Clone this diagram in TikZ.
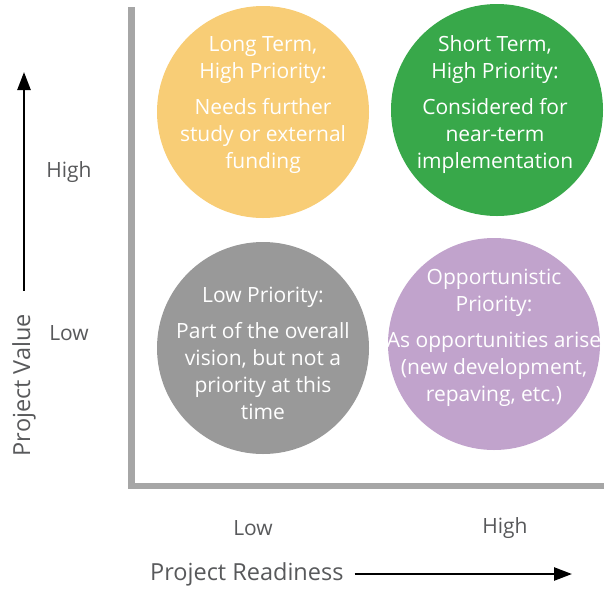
\documentclass[tikz,border=0pt]{standalone}
\usepackage{fontspec}
\setmainfont{Open Sans}
\usetikzlibrary{arrows.meta}
\definecolor{ltyellow}{HTML}{F8CD76}
\definecolor{stgreen}{HTML}{38A84A}
\definecolor{lpgray}{HTML}{999999}
\definecolor{oppurple}{HTML}{C1A3CC}
\definecolor{axisgray}{HTML}{A6A6A6}
\definecolor{labelgray}{HTML}{58595B}
\begin{document}
\begin{tikzpicture}[x=1pt,y=-1pt]
\tikzset{
  quad/.style={circle,minimum size=212pt,inner sep=0pt},
  quadtext/.style={align=center,text=white,inner sep=0pt,font=\fontsize{21}{27}\selectfont},
  axislabel/.style={text=labelgray,inner sep=0pt,font=\fontsize{21}{24}\selectfont},
  axistitle/.style={axislabel,font=\fontsize{23.5}{26}\selectfont},
  axisline/.style={draw=axisgray,line width=6.5pt},
  valuearrow/.style={-{Triangle[length=18pt,width=13pt]},line width=2.5pt}
}
\useasboundingbox (0,0) rectangle (604,590);
\coordinate (c_top) at (131.5,7);
\coordinate (c_right) at (604,486);
\coordinate (c_vtip) at (25,72);
\coordinate (c_rtip) at (572,576);
\draw[axisline] (c_top) |- (c_right);
\node[quad,fill=ltyellow] (n_lt) at (263,112) {};
\node[quad,fill=stgreen] (n_st) at (497,110) {};
\node[quad,fill=lpgray] (n_lp) at (263,348) {};
\node[quad,fill=oppurple] (n_op) at (494,344) {};
\node[quadtext] (n_lt_text) at (263,105) {Long Term,\\High Priority:\\[9pt]Needs further\\study or external\\funding};
\node[quadtext] (n_st_text) at (495,105) {Short Term,\\High Priority:\\[9pt]Considered for\\near-term\\implementation};
\node[quadtext] (n_lp_text) at (263,353) {Low Priority:\\[9pt]Part of the overall\\vision, but not a\\priority at this\\time};
\node[quadtext] (n_op_text) at (494,338) {Opportunistic\\Priority:\\[9pt]As opportunities arise\\(new development,\\repaving, etc.)};
\node[axislabel] (n_vhigh) at (69,172) {High};
\node[axislabel] (n_vlow) at (69,333) {Low};
\node[axislabel] (n_rlow) at (253,528) {Low};
\node[axislabel] (n_rhigh) at (505,528) {High};
\node[axistitle,anchor=west] (n_readiness) at (150,574) {Project Readiness};
\node[axistitle,rotate=90] (n_value) at (24,385) {Project Value};
\draw[valuearrow] ([xshift=11pt]n_readiness.east) -- (n_readiness.east -| c_rtip);
\draw[valuearrow] ([yshift=23pt]n_value.east) -- (n_value.east |- c_vtip);
\end{tikzpicture}
\end{document}
